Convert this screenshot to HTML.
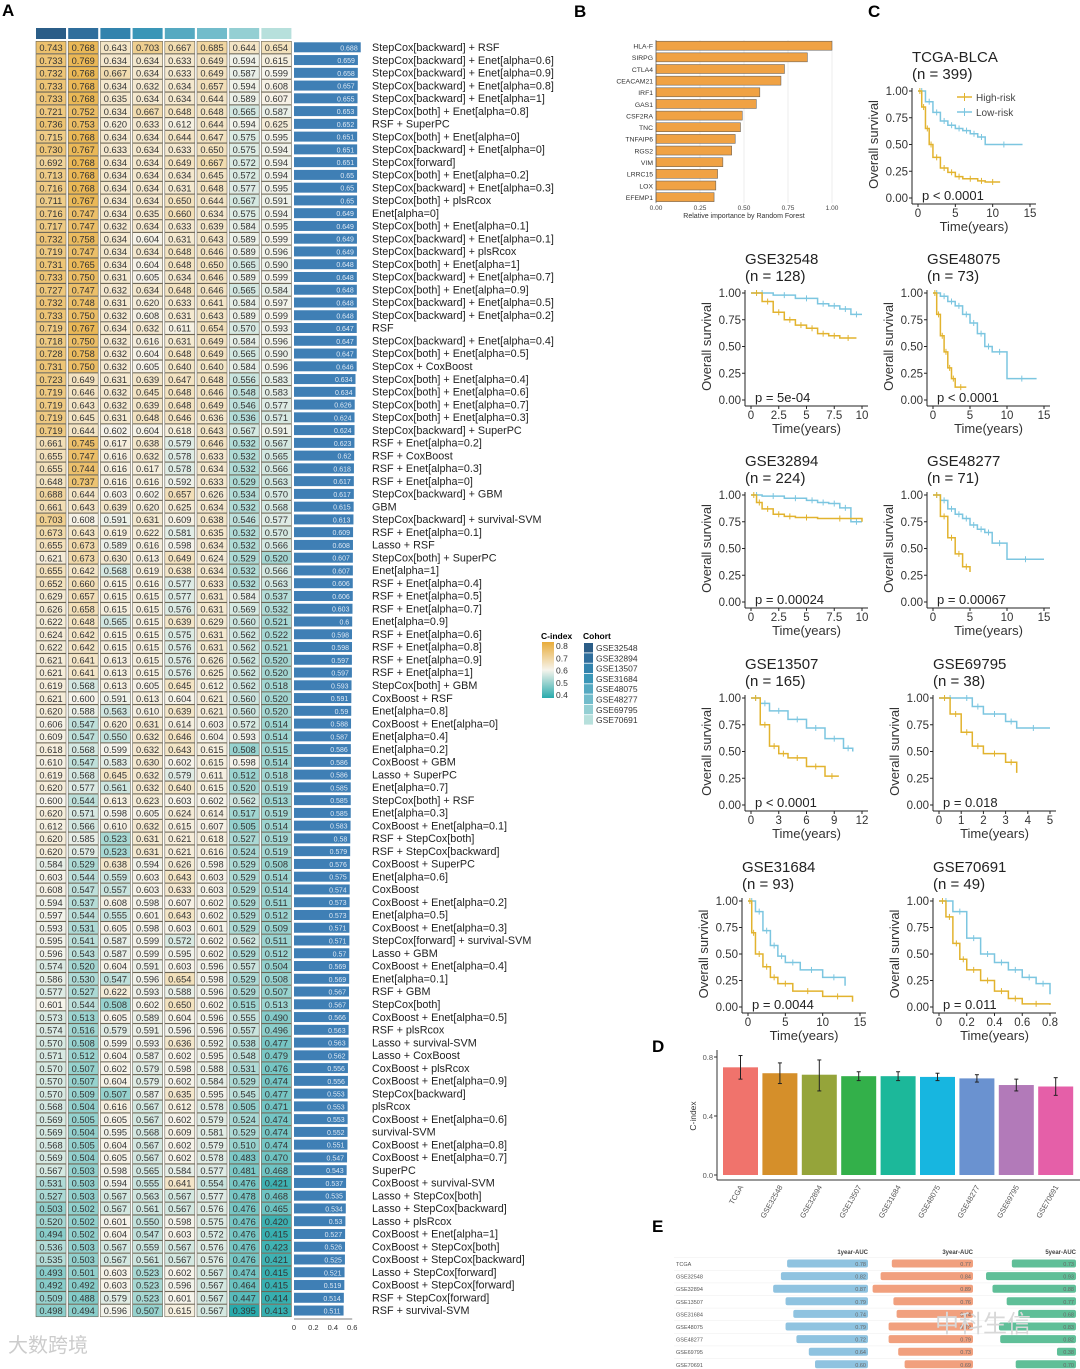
<!DOCTYPE html>
<html><head><meta charset="utf-8"><style>
html,body{margin:0;padding:0;background:#fff}
svg{display:block;font-family:"Liberation Sans","Noto Sans CJK SC",sans-serif}
</style></head><body>
<svg id="fig" width="1080" height="1369" viewBox="0 0 1080 1369" xmlns="http://www.w3.org/2000/svg">
<g id="A"></g>
<g id="B"></g>
<g id="C"></g>
<g id="D"></g>
<g id="E"></g>
</svg>
<script>
// ---------- Panel A data ----------
const cohorts = ["GSE32548","GSE32894","GSE13507","GSE31684","GSE48075","GSE48277","GSE69795","GSE70691"];
const modelNames = ["StepCox[backward] + RSF","StepCox[backward] + Enet[alpha=0.6]","StepCox[backward] + Enet[alpha=0.9]","StepCox[backward] + Enet[alpha=0.8]","StepCox[backward] + Enet[alpha=1]","StepCox[both] + Enet[alpha=0.8]","RSF + SuperPC","StepCox[both] + Enet[alpha=0]","StepCox[backward] + Enet[alpha=0]","StepCox[forward]","StepCox[both] + Enet[alpha=0.2]","StepCox[backward] + Enet[alpha=0.3]","StepCox[both] + plsRcox","Enet[alpha=0]","StepCox[both] + Enet[alpha=0.1]","StepCox[backward] + Enet[alpha=0.1]","StepCox[backward] + plsRcox","StepCox[both] + Enet[alpha=1]","StepCox[backward] + Enet[alpha=0.7]","StepCox[both] + Enet[alpha=0.9]","StepCox[backward] + Enet[alpha=0.5]","StepCox[backward] + Enet[alpha=0.2]","RSF","StepCox[backward] + Enet[alpha=0.4]","StepCox[both] + Enet[alpha=0.5]","StepCox + CoxBoost","StepCox[both] + Enet[alpha=0.4]","StepCox[both] + Enet[alpha=0.6]","StepCox[both] + Enet[alpha=0.7]","StepCox[both] + Enet[alpha=0.3]","StepCox[backward] + SuperPC","RSF + Enet[alpha=0.2]","RSF + CoxBoost","RSF + Enet[alpha=0.3]","RSF + Enet[alpha=0]","StepCox[backward] + GBM","GBM","StepCox[backward] + survival-SVM","RSF + Enet[alpha=0.1]","Lasso + RSF","StepCox[both] + SuperPC","Enet[alpha=1]","RSF + Enet[alpha=0.4]","RSF + Enet[alpha=0.5]","RSF + Enet[alpha=0.7]","Enet[alpha=0.9]","RSF + Enet[alpha=0.6]","RSF + Enet[alpha=0.8]","RSF + Enet[alpha=0.9]","RSF + Enet[alpha=1]","StepCox[both] + GBM","CoxBoost + RSF","Enet[alpha=0.8]","CoxBoost + Enet[alpha=0]","Enet[alpha=0.4]","Enet[alpha=0.2]","CoxBoost + GBM","Lasso + SuperPC","Enet[alpha=0.7]","StepCox[both] + RSF","Enet[alpha=0.3]","CoxBoost + Enet[alpha=0.1]","RSF + StepCox[both]","RSF + StepCox[backward]","CoxBoost + SuperPC","Enet[alpha=0.6]","CoxBoost","CoxBoost + Enet[alpha=0.2]","Enet[alpha=0.5]","CoxBoost + Enet[alpha=0.3]","StepCox[forward] + survival-SVM","Lasso + GBM","CoxBoost + Enet[alpha=0.4]","Enet[alpha=0.1]","RSF + GBM","StepCox[both]","CoxBoost + Enet[alpha=0.5]","RSF + plsRcox","Lasso + survival-SVM","Lasso + CoxBoost","CoxBoost + plsRcox","CoxBoost + Enet[alpha=0.9]","StepCox[backward]","plsRcox","CoxBoost + Enet[alpha=0.6]","survival-SVM","CoxBoost + Enet[alpha=0.8]","CoxBoost + Enet[alpha=0.7]","SuperPC","CoxBoost + survival-SVM","Lasso + StepCox[both]","Lasso + StepCox[backward]","Lasso + plsRcox","CoxBoost + Enet[alpha=1]","CoxBoost + StepCox[both]","CoxBoost + StepCox[backward]","Lasso + StepCox[forward]","CoxBoost + StepCox[forward]","RSF + StepCox[forward]","RSF + survival-SVM"];
const cindexMatrix = [
[.743,.768,.643,.703,.667,.685,.644,.654],[.733,.769,.634,.634,.633,.649,.594,.615],[.732,.768,.667,.634,.633,.649,.587,.599],[.733,.768,.634,.632,.634,.657,.594,.608],[.733,.768,.635,.634,.634,.644,.589,.607],[.721,.752,.634,.667,.648,.648,.565,.587],[.736,.753,.620,.633,.612,.644,.594,.625],[.715,.768,.634,.634,.644,.647,.575,.595],[.730,.767,.633,.634,.633,.650,.575,.594],[.692,.768,.634,.634,.649,.667,.572,.594],
[.713,.768,.634,.634,.634,.645,.572,.594],[.716,.768,.634,.634,.631,.648,.577,.595],[.711,.767,.634,.634,.650,.644,.567,.591],[.716,.747,.634,.635,.660,.634,.575,.594],[.717,.747,.632,.634,.633,.639,.584,.595],[.732,.758,.634,.604,.631,.643,.589,.599],[.719,.747,.634,.634,.648,.646,.589,.596],[.731,.765,.634,.604,.648,.650,.565,.590],[.733,.750,.631,.605,.634,.646,.589,.599],[.727,.747,.632,.634,.648,.646,.565,.584],
[.732,.748,.631,.620,.633,.641,.584,.597],[.733,.750,.632,.608,.631,.643,.589,.599],[.719,.767,.634,.632,.611,.654,.570,.593],[.718,.750,.632,.616,.631,.649,.584,.596],[.728,.758,.632,.604,.648,.649,.565,.590],[.731,.750,.632,.605,.640,.640,.584,.596],[.723,.649,.631,.639,.647,.648,.556,.583],[.719,.646,.632,.645,.648,.646,.548,.583],[.719,.643,.632,.639,.648,.649,.546,.577],[.719,.645,.631,.648,.646,.636,.536,.571],
[.719,.644,.602,.604,.618,.643,.567,.591],[.661,.745,.617,.638,.579,.646,.532,.567],[.655,.747,.616,.632,.578,.633,.532,.565],[.655,.744,.616,.617,.578,.634,.532,.566],[.648,.737,.616,.616,.592,.633,.529,.563],[.688,.644,.603,.602,.657,.626,.534,.570],[.661,.643,.639,.620,.625,.634,.532,.568],[.703,.608,.591,.631,.609,.638,.546,.577],[.673,.643,.619,.622,.581,.635,.532,.570],[.655,.673,.589,.616,.598,.634,.532,.566],
[.621,.673,.630,.613,.649,.624,.529,.520],[.655,.642,.568,.619,.638,.634,.532,.566],[.652,.660,.615,.616,.577,.633,.532,.563],[.629,.657,.615,.615,.577,.631,.584,.537],[.626,.658,.615,.615,.576,.631,.569,.532],[.622,.648,.565,.615,.639,.629,.560,.521],[.624,.642,.615,.615,.575,.631,.562,.522],[.622,.642,.615,.615,.576,.631,.562,.521],[.621,.641,.613,.615,.576,.626,.562,.520],[.621,.641,.613,.615,.576,.625,.562,.520],
[.619,.568,.613,.605,.645,.612,.562,.518],[.621,.600,.591,.613,.604,.621,.560,.520],[.620,.588,.563,.610,.639,.621,.560,.520],[.606,.547,.620,.631,.614,.603,.572,.514],[.609,.547,.550,.632,.646,.604,.593,.514],[.618,.568,.599,.632,.643,.615,.508,.515],[.610,.547,.583,.630,.602,.615,.598,.514],[.619,.568,.645,.632,.579,.611,.512,.518],[.620,.577,.561,.632,.640,.615,.520,.519],[.600,.544,.613,.623,.603,.602,.562,.513],
[.620,.571,.598,.605,.624,.614,.517,.519],[.612,.566,.610,.632,.615,.607,.505,.514],[.620,.585,.523,.631,.621,.618,.527,.519],[.620,.579,.523,.631,.621,.616,.524,.519],[.584,.529,.638,.594,.626,.598,.529,.508],[.603,.544,.559,.603,.643,.603,.529,.514],[.608,.547,.557,.603,.633,.603,.529,.514],[.594,.537,.608,.598,.607,.602,.529,.511],[.597,.544,.555,.601,.643,.602,.529,.512],[.593,.531,.605,.598,.603,.601,.529,.509],
[.595,.541,.587,.599,.572,.602,.562,.511],[.596,.543,.587,.599,.595,.602,.529,.512],[.574,.520,.604,.591,.603,.596,.557,.504],[.586,.530,.547,.596,.654,.598,.529,.508],[.577,.527,.622,.593,.588,.596,.529,.507],[.601,.544,.508,.602,.650,.602,.515,.513],[.573,.513,.605,.589,.604,.596,.555,.490],[.574,.516,.579,.591,.596,.596,.557,.496],[.570,.508,.599,.593,.636,.592,.538,.477],[.571,.512,.604,.587,.602,.595,.548,.479],
[.570,.507,.602,.579,.598,.588,.531,.476],[.570,.507,.604,.579,.602,.584,.529,.474],[.570,.509,.507,.587,.635,.595,.545,.477],[.568,.504,.616,.567,.612,.578,.505,.471],[.569,.505,.605,.567,.602,.579,.524,.474],[.569,.504,.595,.568,.609,.581,.529,.474],[.568,.505,.604,.567,.602,.579,.510,.474],[.569,.504,.605,.567,.602,.578,.483,.470],[.567,.503,.598,.565,.584,.577,.481,.468],[.531,.503,.594,.555,.641,.554,.476,.421],
[.527,.503,.567,.563,.567,.577,.478,.468],[.503,.502,.567,.561,.567,.576,.476,.465],[.520,.502,.601,.550,.598,.575,.476,.420],[.494,.502,.604,.547,.603,.572,.476,.415],[.536,.503,.567,.559,.567,.576,.476,.423],[.535,.503,.567,.561,.567,.576,.476,.421],[.493,.501,.603,.523,.602,.567,.474,.415],[.492,.492,.603,.523,.596,.567,.464,.415],[.509,.488,.579,.523,.601,.567,.447,.414],[.498,.494,.596,.507,.615,.567,.395,.413]];
const meanCindex = [.688,.659,.658,.657,.655,.653,.652,.651,.651,.651,.65,.65,.65,.649,.649,.649,.649,.648,.648,.648,.648,.648,.647,.647,.647,.646,.634,.634,.626,.624,.624,.623,.62,.618,.617,.617,.615,.613,.609,.608,.607,.607,.606,.606,.603,.6,.598,.598,.597,.597,.593,.591,.59,.588,.587,.586,.586,.586,.585,.585,.585,.583,.58,.579,.576,.575,.574,.573,.573,.571,.571,.57,.569,.569,.567,.567,.566,.563,.563,.562,.556,.556,.553,.553,.553,.552,.551,.547,.543,.537,.535,.534,.53,.527,.526,.525,.521,.519,.514,.511];
const meanTicks = [0,0.2,0.4,0.6];
const cohortColors = ["#2b5d87","#2f6e9c","#3283ad","#3a96b7","#55a9c1","#72bccb","#94cfd3","#b7e0dc"];

// ---------- Panel B data ----------
const genes = ["HLA-F","SIRPG","CTLA4","CEACAM21","IRF1","GAS1","CSF2RA","TNC","TNFAIP6","RGS2","VIM","LRRC15","LOX","EFEMP1"];
const importance = [1.0,0.86,0.73,0.71,0.59,0.57,0.49,0.48,0.45,0.43,0.38,0.35,0.34,0.33];
const importanceTicks = [0,0.25,0.5,0.75,1.0];

// ---------- Panel C data (KM [time, survival]) ----------
const kmTcgaHigh=[[0,1],[0.5,0.85],[1,0.65],[1.5,0.5],[2,0.38],[3,0.28],[4,0.24],[5,0.2],[6,0.18],[8,0.16],[9,0.15],[11,0.15]];
const kmTcgaLow=[[0,1],[1,0.9],[2,0.8],[3,0.72],[4,0.68],[5,0.65],[6,0.63],[7,0.6],[8,0.57],[9,0.5],[14,0.5]];
const kmG32548High=[[0,1],[1,0.92],[2,0.82],[3,0.75],[4,0.7],[5,0.67],[6,0.62],[7,0.6],[8,0.58],[9.5,0.58]];
const kmG32548Low=[[0,1],[2,0.98],[4,0.95],[6,0.9],[7,0.88],[8,0.85],[9,0.8],[10,0.8]];
const kmG48075High=[[0,1],[0.5,0.8],[1,0.6],[1.5,0.45],[2,0.3],[2.5,0.2],[3,0.12],[4.5,0.12]];
const kmG48075Low=[[0,1],[1,0.97],[2,0.92],[3,0.88],[4,0.8],[5,0.72],[6,0.62],[7,0.5],[8,0.45],[10,0.2],[14,0.2]];
const kmG32894High=[[0,1],[0.5,0.93],[1,0.87],[2,0.82],[3,0.8],[4,0.79],[6,0.78],[10,0.75]];
const kmG32894Low=[[0,1],[1,0.99],[3,0.97],[5,0.95],[6,0.93],[7,0.92],[8,0.88],[9,0.75],[10,0.75]];
const kmG48277High=[[0,1],[1,0.8],[2,0.6],[3,0.45],[4,0.33],[5,0.28]];
const kmG48277Low=[[0,1],[1,0.95],[2,0.87],[3,0.82],[4,0.78],[5,0.72],[6,0.68],[7,0.65],[8,0.55],[10,0.4],[15,0.4]];
const kmG13507High=[[0,1],[1,0.75],[2,0.55],[3,0.48],[4,0.44],[6,0.36],[8,0.27],[9.5,0.27]];
const kmG13507Low=[[0,1],[1,0.95],[2,0.88],[4,0.8],[6,0.72],[8,0.62],[10,0.53],[11,0.5]];
const kmG69795High=[[0,1],[0.5,0.85],[1,0.68],[1.5,0.55],[2,0.48],[3,0.4],[3.5,0.3]];
const kmG69795Low=[[0,1],[1,1],[1.5,0.92],[2,0.85],[3,0.78],[3.5,0.72],[5,0.72]];
const kmG31684High=[[0,1],[0.5,0.7],[1,0.5],[2,0.38],[3,0.28],[4,0.22],[6,0.15],[10,0.1],[14,0.05]];
const kmG31684Low=[[0,1],[1,0.9],[2,0.72],[3,0.58],[4,0.48],[5,0.42],[7,0.35],[10,0.28],[13,0.2]];
const kmG70691High=[[0,1],[0.05,0.85],[0.1,0.6],[0.15,0.45],[0.2,0.35],[0.3,0.25],[0.4,0.15],[0.5,0.08],[0.6,0.03],[0.8,0.02]];
const kmG70691Low=[[0,1],[0.1,0.9],[0.2,0.65],[0.3,0.5],[0.4,0.42],[0.5,0.35],[0.6,0.28],[0.7,0.22],[0.8,0.12]];

// ---------- Panel D data ----------
const dCohorts = ["TCGA","GSE32548","GSE32894","GSE13507","GSE31684","GSE48075","GSE48277","GSE69795","GSE70691"];
const dValues = [0.73,0.69,0.68,0.67,0.67,0.665,0.655,0.61,0.60];
const dLower = [0.65,0.62,0.57,0.64,0.64,0.64,0.63,0.57,0.54];
const dUpper = [0.81,0.76,0.78,0.70,0.70,0.69,0.68,0.65,0.66];
const dTicks = [0,0.4,0.8];

// ---------- Panel E data ----------
const eCohorts = ["TCGA","GSE32548","GSE32894","GSE13507","GSE31684","GSE48075","GSE48277","GSE69795","GSE70691"];
const auc1 = [0.78,0.82,0.87,0.79,0.74,0.79,0.72,0.64,0.60];
const auc3 = [0.77,0.84,0.89,0.76,0.74,0.79,0.79,0.73,0.69];
const auc5 = [0.73,0.93,0.88,0.77,0.68,0.83,0.82,0.38,0.70];

const NS="http://www.w3.org/2000/svg";
function mk(parent,tag,attrs,text){const e=document.createElementNS(NS,tag);for(const k in attrs)e.setAttribute(k,attrs[k]);if(text!==undefined)e.textContent=text;parent.appendChild(e);return e;}
function lerp(a,b,t){return Math.round(a+(b-a)*t);}
function heatColor(v){
  const mid=[246,244,236], hi=[232,172,58], lo=[40,170,172];
  let c,t;
  if(v>=0.6){t=Math.min(1,(v-0.6)/0.2);c=[lerp(mid[0],hi[0],t),lerp(mid[1],hi[1],t),lerp(mid[2],hi[2],t)];}
  else{t=Math.min(1,(0.6-v)/0.2);c=[lerp(mid[0],lo[0],t),lerp(mid[1],lo[1],t),lerp(mid[2],lo[2],t)];}
  return `rgb(${c[0]},${c[1]},${c[2]})`;
}

// ---------- Draw Panel A ----------
(function(){
  const g=document.getElementById('A');
  const lbl=mk(g,'text',{x:2,y:16,'font-size':17,'font-weight':'bold'},'A');
  
  
  const colX=i=>36+i*32.2, colW=30, rowY=r=>41+r*12.76, rowH=12.2;
  cohorts.forEach((c,i)=>{
    const h=mk(g,'rect',{x:colX(i),y:28,width:colW,height:11,fill:cohortColors[i]});
    
    
  });
  const barX0=294, barScale=97;
  cindexMatrix.forEach((row,r)=>{
    row.forEach((v,i)=>{
      const cell=mk(g,'rect',{x:colX(i),y:rowY(r)+0.3,width:colW,height:rowH,fill:heatColor(v),stroke:'#6b6454','stroke-width':0.6});
      
      
      const t=mk(g,'text',{x:colX(i)+colW/2,y:rowY(r)+10,'font-size':9.3,'text-anchor':'middle',fill:'#333'},v.toFixed(3));
      
      
    });
    const m=meanCindex[r];
    const b=mk(g,'rect',{x:barX0,y:rowY(r)+1.3,width:m*barScale,height:10,fill:'#3f7fb5'});
    
    
    const bt=mk(g,'text',{x:barX0+m*barScale-3,y:rowY(r)+9.3,'font-size':7,'text-anchor':'end',fill:'#dde8f4'},String(m));
    
    
    const nm=mk(g,'text',{x:372,y:rowY(r)+10,'font-size':10.8,fill:'#222'},modelNames[r]);
    
    
  });
  const axY=rowY(100)+2;
  const ax=mk(g,'line',{x1:barX0,y1:axY,x2:barX0+0.6*barScale,y2:axY,stroke:'#555','stroke-width':0.7});
  
  
  meanTicks.forEach(tv=>{
    const tl=mk(g,'text',{x:barX0+tv*barScale,y:axY+11,'font-size':7.5,'text-anchor':'middle',fill:'#333'},String(tv));
    
    
  });
  // legends
  const lg=mk(g,'g',{});
  
  
  mk(lg,'text',{x:541,y:639,'font-size':8.5,'font-weight':'bold'},'C-index');
  const defs=mk(lg,'defs',{});
  const gr=mk(defs,'linearGradient',{id:'cg',x1:0,y1:0,x2:0,y2:1});
  [[0,0.8],[0.5,0.6],[1,0.4]].forEach(s=>mk(gr,'stop',{offset:s[0],'stop-color':heatColor(s[1])}));
  mk(lg,'rect',{x:542,y:642,width:12,height:56,fill:'url(#cg)'});
  [0.8,0.7,0.6,0.5,0.4].forEach((v,i)=>mk(lg,'text',{x:556,y:649+i*12.3,'font-size':8.5,fill:'#333'},String(v)));
  mk(lg,'text',{x:583,y:639,'font-size':8.5,'font-weight':'bold'},'Cohort');
  cohorts.forEach((c,i)=>{
    mk(lg,'rect',{x:584,y:643+i*10.3,width:9,height:9.5,fill:cohortColors[i]});
    mk(lg,'text',{x:596,y:651+i*10.3,'font-size':8.5,fill:'#333'},c);
  });
  const wm=mk(g,'text',{x:8,y:1352,'font-size':20,fill:'#ccc'},'大数跨境');
  
  
})();

// ---------- Draw Panel B ----------
(function(){
  const g=document.getElementById('B');
  const l=mk(g,'text',{x:574,y:17,'font-size':17,'font-weight':'bold'},'B');
  
  
  const x0=656,x1=832, xs=v=>x0+(x1-x0)*v, y0=40, step=11.65;
  importanceTicks.forEach(t=>{
    mk(g,'line',{x1:xs(t),y1:y0,x2:xs(t),y2:y0+step*14,stroke:'#e6e6e6','stroke-width':0.7});
    const tl=mk(g,'text',{x:xs(t),y:210,'font-size':6.5,'text-anchor':'middle',fill:'#444'},t.toFixed(2));
    
    
  });
  genes.forEach((gname,i)=>{
    const b=mk(g,'rect',{x:x0,y:y0+i*step+1.2,width:xs(importance[i])-x0,height:9,fill:'#f0a244',stroke:'#555','stroke-width':0.5});
    
    
    const t=mk(g,'text',{x:x0-3,y:y0+i*step+8.5,'font-size':6.8,'text-anchor':'end',fill:'#333'},gname);
    
    
  });
  mk(g,'line',{x1:x0,y1:y0,x2:x0,y2:y0+step*14,stroke:'#555','stroke-width':0.6});
  const at=mk(g,'text',{x:744,y:218,'font-size':7,'text-anchor':'middle',fill:'#333'},'Relative importance by Random Forest');
  
  
})();

// ---------- Draw Panel C ----------
function kmPlot(cfg){
  const g=mk(document.getElementById('C'),'g',{});
  
  
  const xs=t=>cfg.x0+(cfg.x1-cfg.x0)*t/cfg.tmax, ys=s=>cfg.yb-(cfg.yb-cfg.yt)*s;
  mk(g,'text',{x:cfg.x0-6,y:cfg.yt-29,'font-size':15,fill:'#222'},cfg.title);
  mk(g,'text',{x:cfg.x0-6,y:cfg.yt-12,'font-size':15,fill:'#222'},cfg.n);
  const axX=cfg.x0-6, axY=cfg.yb+6;
  mk(g,'line',{x1:axX,y1:cfg.yt-3,x2:axX,y2:axY,stroke:'#222','stroke-width':1});
  mk(g,'line',{x1:axX,y1:axY,x2:cfg.x1+6,y2:axY,stroke:'#222','stroke-width':1});
  [0,0.25,0.5,0.75,1].forEach(s=>{
    mk(g,'line',{x1:axX-3,y1:ys(s),x2:axX,y2:ys(s),stroke:'#222'});
    mk(g,'text',{x:axX-4,y:ys(s)+4,'font-size':11.5,'text-anchor':'end',fill:'#333'},s.toFixed(2));
  });
  cfg.ticks.forEach(t=>{
    mk(g,'line',{x1:xs(t),y1:axY,x2:xs(t),y2:axY+3,stroke:'#222'});
    mk(g,'text',{x:xs(t),y:axY+13,'font-size':11.5,'text-anchor':'middle',fill:'#333'},String(t));
  });
  mk(g,'text',{x:(cfg.x0+cfg.x1)/2,y:axY+27,'font-size':13,'text-anchor':'middle',fill:'#333'},'Time(years)');
  const yl=mk(g,'text',{x:0,y:0,'font-size':13,'text-anchor':'middle',fill:'#333',transform:`translate(${axX-34},${(cfg.yt+cfg.yb)/2}) rotate(-90)`},'Overall survival');
  [[cfg.low,'#7cc6e0'],[cfg.high,'#e2b32e']].forEach(([d,col])=>{
    let p=`M${xs(d[0][0])},${ys(d[0][1])}`;
    for(let i=1;i<d.length;i++){p+=` H${xs(d[i][0])} V${ys(d[i][1])}`;}
    const path=mk(g,'path',{d:p,fill:'none',stroke:col,'stroke-width':1.5});
    
    
    for(let i=1;i<d.length;i++){
      const tm=(d[i-1][0]+d[i][0])/2, yy=ys(d[i-1][1]);
      mk(g,'line',{x1:xs(tm),y1:yy-3,x2:xs(tm),y2:yy+3,stroke:col,'stroke-width':1});
    }
  });
  mk(g,'text',{x:cfg.x0+4,y:cfg.yb+2,'font-size':13,fill:'#222'},cfg.p);
}
(function(){
  const l=mk(document.getElementById('C'),'text',{x:868,y:17,'font-size':17,'font-weight':'bold'},'C');
  
  
})();
kmPlot({name:'tcga',title:'TCGA-BLCA',n:'(n = 399)',x0:918,x1:1030,tmax:15,yt:91,yb:198,ticks:[0,5,10,15],high:kmTcgaHigh,low:kmTcgaLow,p:'p < 0.0001'});
kmPlot({name:'gse32548',title:'GSE32548',n:'(n = 128)',x0:751,x1:862,tmax:10,yt:293,yb:400,ticks:[0,2.5,5,7.5,10],high:kmG32548High,low:kmG32548Low,p:'p = 5e-04'});
kmPlot({name:'gse48075',title:'GSE48075',n:'(n = 73)',x0:933,x1:1044,tmax:15,yt:293,yb:400,ticks:[0,5,10,15],high:kmG48075High,low:kmG48075Low,p:'p < 0.0001'});
kmPlot({name:'gse32894',title:'GSE32894',n:'(n = 224)',x0:751,x1:862,tmax:10,yt:495,yb:602,ticks:[0,2.5,5,7.5,10],high:kmG32894High,low:kmG32894Low,p:'p = 0.00024'});
kmPlot({name:'gse48277',title:'GSE48277',n:'(n = 71)',x0:933,x1:1044,tmax:15,yt:495,yb:602,ticks:[0,5,10,15],high:kmG48277High,low:kmG48277Low,p:'p = 0.00067'});
kmPlot({name:'gse13507',title:'GSE13507',n:'(n = 165)',x0:751,x1:862,tmax:12,yt:698,yb:805,ticks:[0,3,6,9,12],high:kmG13507High,low:kmG13507Low,p:'p < 0.0001'});
kmPlot({name:'gse69795',title:'GSE69795',n:'(n = 38)',x0:939,x1:1050,tmax:5,yt:698,yb:805,ticks:[0,1,2,3,4,5],high:kmG69795High,low:kmG69795Low,p:'p = 0.018'});
kmPlot({name:'gse31684',title:'GSE31684',n:'(n = 93)',x0:748,x1:860,tmax:15,yt:901,yb:1007,ticks:[0,5,10,15],high:kmG31684High,low:kmG31684Low,p:'p = 0.0044'});
kmPlot({name:'gse70691',title:'GSE70691',n:'(n = 49)',x0:939,x1:1050,tmax:0.8,yt:901,yb:1007,ticks:[0,0.2,0.4,0.6,0.8],high:kmG70691High,low:kmG70691Low,p:'p = 0.011'});
(function(){
  const g=mk(document.getElementById('C'),'g',{});
  
  
  [['High-risk','#e2b32e',97],['Low-risk','#7cc6e0',112]].forEach(([t,c,y])=>{
    mk(g,'line',{x1:957,y1:y,x2:972,y2:y,stroke:c,'stroke-width':1.5});
    mk(g,'line',{x1:964.5,y1:y-4,x2:964.5,y2:y+4,stroke:c,'stroke-width':1});
    mk(g,'text',{x:976,y:y+4,'font-size':10,fill:'#444'},t);
  });
})();

// ---------- Draw Panel D ----------
(function(){
  const g=document.getElementById('D');
  const l=mk(g,'text',{x:652,y:1052,'font-size':17,'font-weight':'bold'},'D');
  
  
  const ys=v=>1175-(1175-1057)*v/0.8, bx=i=>723+i*39.4, bw=35;
  mk(g,'line',{x1:717,y1:1050,x2:717,y2:1180,stroke:'#333'});
  mk(g,'line',{x1:717,y1:1180,x2:1080,y2:1180,stroke:'#333'});
  dTicks.forEach(t=>{
    mk(g,'line',{x1:714,y1:ys(t),x2:717,y2:ys(t),stroke:'#333'});
    mk(g,'text',{x:713,y:ys(t)+3,'font-size':7.5,'text-anchor':'end',fill:'#555'},t.toFixed(1));
  });
  const yt=mk(g,'text',{x:0,y:0,'font-size':8.5,'text-anchor':'middle',fill:'#333',transform:'translate(696,1116) rotate(-90)'},'C-index');
  
  
  const cols=["#f0736c","#d58f2a","#95a43a","#33b04a","#1cb89a","#17b6e0","#6a92d0","#b27ab9","#e55fa8"];
  dCohorts.forEach((c,i)=>{
    const b=mk(g,'rect',{x:bx(i),y:ys(dValues[i]),width:bw,height:ys(0)-ys(dValues[i]),fill:cols[i]});
    
    
    const cx=bx(i)+bw/2;
    mk(g,'line',{x1:cx,y1:ys(dUpper[i]),x2:cx,y2:ys(dLower[i]),stroke:'#222','stroke-width':1});
    mk(g,'line',{x1:cx-2,y1:ys(dUpper[i]),x2:cx+2,y2:ys(dUpper[i]),stroke:'#222'});
    mk(g,'line',{x1:cx-2,y1:ys(dLower[i]),x2:cx+2,y2:ys(dLower[i]),stroke:'#222'});
    mk(g,'text',{x:0,y:0,'font-size':7.5,'text-anchor':'end',fill:'#555',transform:`translate(${cx+3},${1187}) rotate(-60)`},c);
  });
})();

// ---------- Draw Panel E ----------
(function(){
  const g=document.getElementById('E');
  const l=mk(g,'text',{x:652,y:1232,'font-size':17,'font-weight':'bold'},'E');
  
  
  const cols=[{d:auc1,end:868,k:155,c:40,col:'#8fc3e0',h:'1year-AUC'},{d:auc3,end:973,k:160,c:42,col:'#f1a07e',h:'3year-AUC'},{d:auc5,end:1076,k:129,c:30,col:'#5fbf98',h:'5year-AUC'}];
  const ry=i=>1264+i*12.6;
  cols.forEach(cc=>{
    mk(g,'text',{x:cc.end,y:1254,'font-size':6,'font-weight':'bold','text-anchor':'end',fill:'#444'},cc.h);
    cc.d.forEach((v,i)=>{
      const w=Math.max(8,cc.k*v-cc.c);
      const b=mk(g,'rect',{x:cc.end-w,y:ry(i)-4.5,width:w,height:8,rx:2,fill:cc.col});
      
      
      mk(g,'text',{x:cc.end-2,y:ry(i)+2,'font-size':5.5,'text-anchor':'end',fill:'#666'},v.toFixed(2));
    });
  });
  eCohorts.forEach((c,i)=>{
    mk(g,'line',{x1:674,y1:ry(i)-6.3,x2:1076,y2:ry(i)-6.3,stroke:'#eee','stroke-width':0.5});
    mk(g,'text',{x:676,y:ry(i)+2,'font-size':5.5,fill:'#555'},c);
  });
  const wm=mk(g,'text',{x:935,y:1332,'font-size':24,fill:'#d8d8d8'},'中科生信');
  
  
})();
</script>
</body></html>
